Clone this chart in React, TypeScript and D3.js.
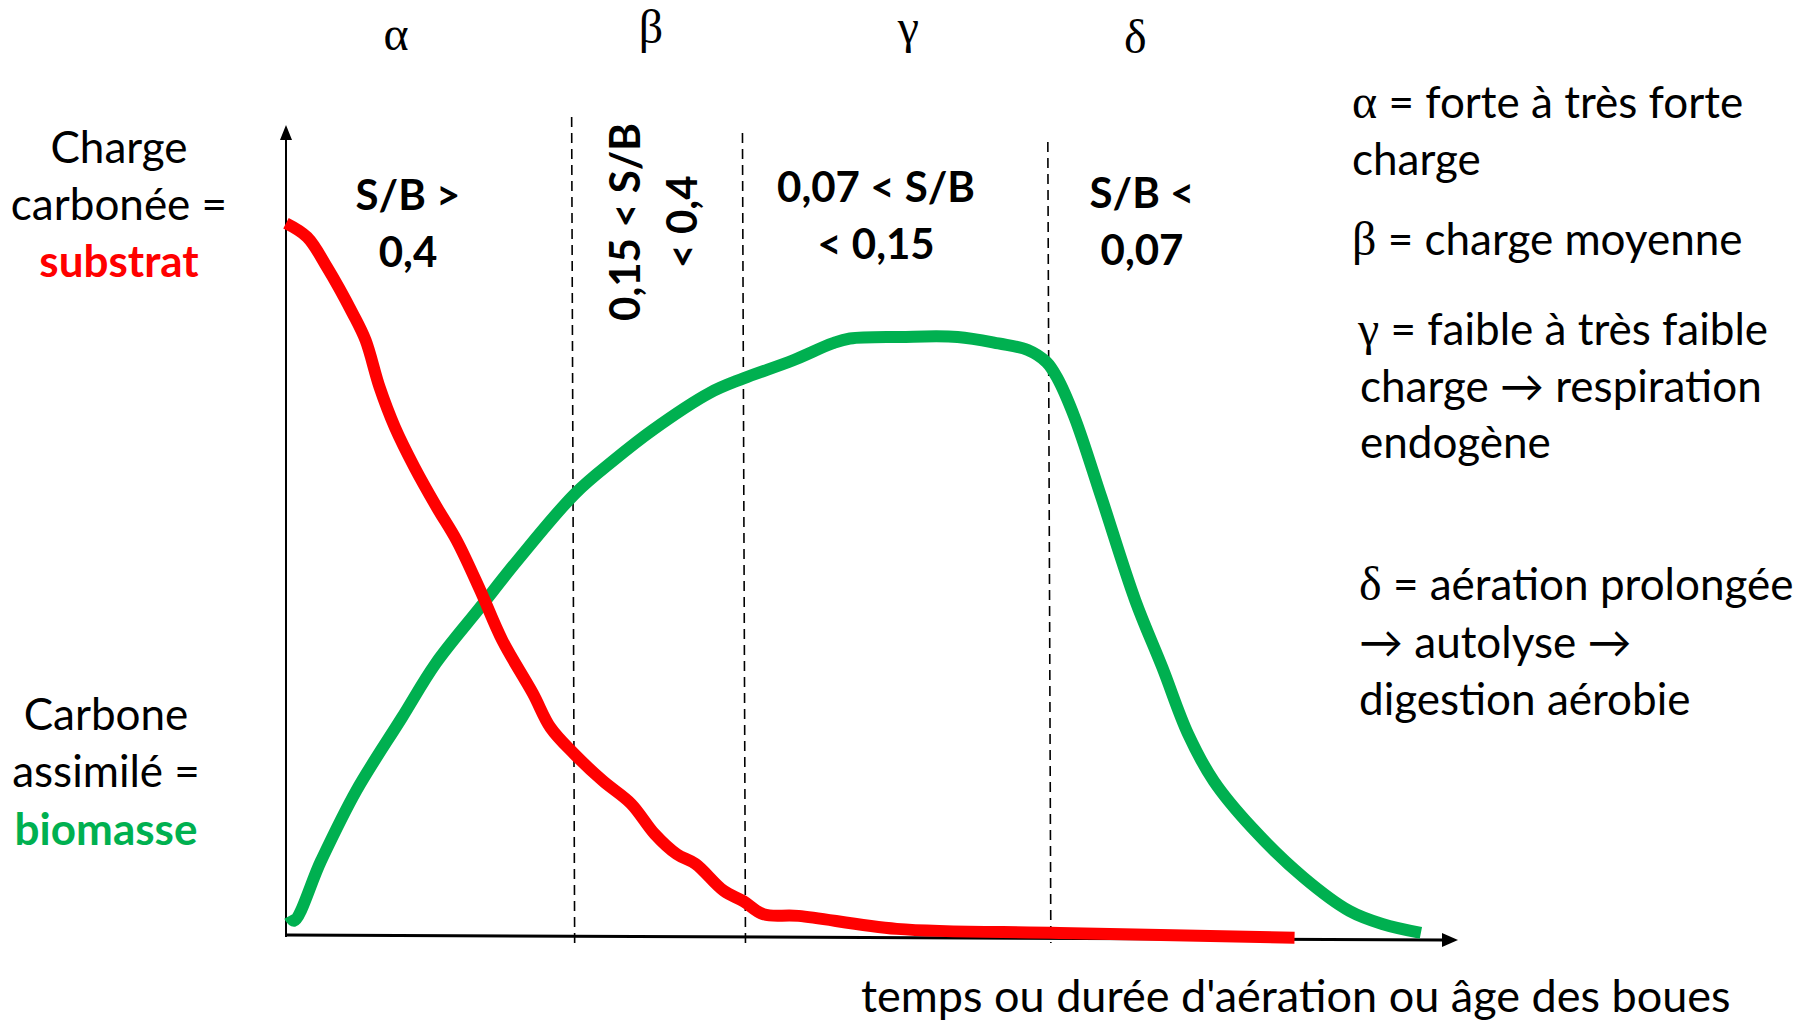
import * as d3 from "d3";

const W = 1814;
const H = 1026;

// time axis (0..100) vs carbon (0..100)
const substratT = [0, 1.8, 3.5, 5.7, 6.8, 8.0, 9.3, 11.0, 12.9, 14.6, 16.6, 18.5, 21.1, 22.6, 24.6, 27.1, 29.5, 31.5, 33.4, 35.0, 37.4, 39.1, 40.8, 43.8, 52.2, 66.1, 86.2];
const substratV = [87.9, 86.2, 82.5, 76.8, 73.5, 67.7, 62.8, 57.8, 52.9, 48.8, 42.7, 36.5, 30.0, 25.8, 22.6, 19.2, 16.4, 12.7, 10.2, 9.0, 5.7, 4.4, 2.8, 2.6, 1.0, 0.5, -0.1];

const biomasseT = [0.3, 0.7, 3.0, 6.0, 9.9, 12.8, 16.6, 19.8, 24.7, 28.0, 31.3, 36.2, 39.1, 43.3, 46.7, 48.2, 52.5, 57.4, 60.9, 63.4, 65.0, 65.9, 67.4, 69.7, 72.6, 74.9, 77.1, 79.3, 82.6, 87.0, 90.9, 93.7, 97.0];
const biomasseV = [2.6, 2.0, 9.4, 18.0, 27.0, 33.7, 40.6, 46.4, 54.6, 58.7, 62.4, 67.0, 68.8, 71.0, 73.1, 73.7, 73.9, 73.9, 73.1, 72.3, 70.8, 68.9, 64.0, 54.1, 41.4, 33.2, 25.0, 19.2, 13.4, 7.3, 3.2, 1.6, 0.5];

// zones α β γ δ, boundaries on the time axis
const zoneLetters = ["α", "β", "γ", "δ"];
const zoneBounds = [24.5, 39.1, 65.2];
const zoneRatios = [
  ["S/B >", "0,4"],
  ["0,15 < S/B", "< 0,4"],
  ["0,07 < S/B", "< 0,15"],
  ["S/B <", "0,07"],
];

const legendLines = [
  ["α", " = forte à très forte"],
  ["", "charge"],
  ["β", " = charge moyenne"],
  ["γ", " = faible à très faible"],
  ["", "charge → respiration"],
  ["", "endogène"],
  ["δ", " = aération prolongée"],
  ["", "→ autolyse →"],
  ["", "digestion aérobie"],
];

const substratLabel = ["Charge", "carbonée =", "substrat"];
const biomasseLabel = ["Carbone", "assimilé =", "biomasse"];
const xTitle = "temps ou durée d'aération ou âge des boues";

const RED = "#FF0000";
const GREEN = "#00B050";
const SANS = "Lato, Carlito, sans-serif";
const SERIF = "'Liberation Serif', 'DejaVu Serif', serif";

// layout
const greekX = [9.4, 31.2, 53.2, 72.6];
const greekY = [50, 43, 43, 53];
const dashTop = [117, 133, 142];
const ratioX = [408, 0, 876, 1142];
const ratioY = [[210, 267], [0, 0], [202, 259], [208, 265]];
const legendY = [118, 175, 255, 345, 402, 458, 600, 658, 715];
const legendX = [1352, 1352, 1352, 1358, 1360, 1360, 1359, 1359, 1359];

export default function App() {
  const x = d3.scaleLinear().domain([0, 100]).range([286, 1456]);
  const y = d3.scaleLinear().domain([0, 100]).range([937, 125]);

  const line = d3
    .line<[number, number]>()
    .x((d) => x(d[0]))
    .y((d) => y(d[1]))
    .curve(d3.curveCatmullRom.alpha(0.5));

  const redPath = line(substratT.map((t, i) => [t, substratV[i]]));
  const greenPath = line(biomasseT.map((t, i) => [t, biomasseV[i]]));

  const x0 = x(0);
  const y0 = y(0);

  return (
    <svg width={W} height={H} style={{ position: "absolute", left: 0, top: 0, background: "#fff" }}>
      {/* dashed zone boundaries */}
      {zoneBounds.map((b, i) => (
        <line key={i} x1={x(b) - 1} x2={x(b) + 2} y1={dashTop[i]} y2={y0 + 6} stroke="#000" strokeWidth={1.6} strokeDasharray="10,6" />
      ))}

      {/* axes */}
      <line x1={x0} y1={y0} x2={x0} y2={y(100) + 12} stroke="#000" strokeWidth={2} />
      <path d={`M${x0},${y(100)} L${x0 - 6},${y(100) + 15} L${x0 + 6},${y(100) + 15} Z`} fill="#000" />
      <line x1={x0} y1={y0 - 2} x2={x(100) - 12} y2={y0 + 3} stroke="#000" strokeWidth={3} />
      <path d={`M${x(100) + 2},${y0 + 3} L${x(100) - 14},${y0 - 4} L${x(100) - 14},${y0 + 10} Z`} fill="#000" />

      {/* curves */}
      <path d={greenPath ?? ""} fill="none" stroke={GREEN} strokeWidth={12} strokeLinejoin="round" />
      <path d={redPath ?? ""} fill="none" stroke={RED} strokeWidth={12} strokeLinejoin="round" />

      {/* greek zone letters */}
      {zoneLetters.map((g, i) => (
        <text key={g} x={x(greekX[i])} y={greekY[i]} textAnchor="middle" fontFamily={SERIF} fontSize={48}>
          {g}
        </text>
      ))}

      {/* S/B ratios */}
      {zoneRatios.map((r, i) =>
        i === 1 ? (
          <g key={i} fontFamily={SANS} fontWeight="bold" fontSize={42} textAnchor="middle">
            <text transform={`translate(640,222) rotate(-90)`}>{r[0]}</text>
            <text transform={`translate(697,222) rotate(-90)`}>{r[1]}</text>
          </g>
        ) : (
          <g key={i} fontFamily={SANS} fontWeight="bold" fontSize={42} textAnchor="middle">
            <text x={ratioX[i]} y={ratioY[i][0]}>{r[0]}</text>
            <text x={ratioX[i]} y={ratioY[i][1]}>{r[1]}</text>
          </g>
        )
      )}

      {/* left labels */}
      <g fontFamily={SANS} fontSize={44} textAnchor="middle">
        <text x={119} y={163}>{substratLabel[0]}</text>
        <text x={119} y={220}>{substratLabel[1]}</text>
        <text x={119} y={277} fill={RED} fontWeight="bold">{substratLabel[2]}</text>
        <text x={106} y={730}>{biomasseLabel[0]}</text>
        <text x={106} y={787}>{biomasseLabel[1]}</text>
        <text x={106} y={845} fill={GREEN} fontWeight="bold">{biomasseLabel[2]}</text>
      </g>

      {/* legend */}
      <g fontFamily={SANS} fontSize={44}>
        {legendLines.map((l, i) => (
          <text key={i} x={legendX[i]} y={legendY[i]}>
            {l[0] && <tspan fontFamily={SERIF} fontSize={48}>{l[0]}</tspan>}
            <tspan>{l[1]}</tspan>
          </text>
        ))}
      </g>

      {/* x title */}
      <text x={861} y={1012} fontFamily={SANS} fontSize={45}>{xTitle}</text>
    </svg>
  );
}
